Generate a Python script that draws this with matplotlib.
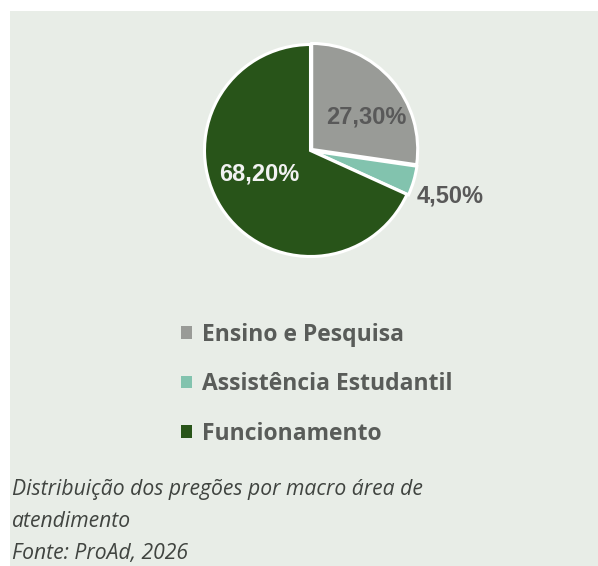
import matplotlib
matplotlib.use("Agg")
import matplotlib.pyplot as plt
from matplotlib.patches import Rectangle

categories = ["Ensino e Pesquisa", "Assistência Estudantil", "Funcionamento"]
shares = [27.3, 4.5, 68.2]
colors = ["#999b97", "#82c3ae", "#285419"]
caption = "Distribuição dos pregões por macro área de\natendimento\nFonte: ProAd, 2026"

W, H = 598, 566
fig = plt.figure(figsize=(W / 100, H / 100), dpi=100)
fig.patch.set_facecolor("white")

# panel background
fig.add_artist(Rectangle((10 / W, 0), 1 - 10 / W, 1 - 11 / H,
                         transform=fig.transFigure, facecolor="#e8ede7",
                         edgecolor="none", zorder=0))

# pie axes placed in pixel units: center (310, 150), radius ~106
cx, cy, r = 310.5, 150.5, 106
ax = fig.add_axes([(cx - r) / W, 1 - (cy + r) / H, 2 * r / W, 2 * r / H])
ax.set_facecolor("none")

wedges, _ = ax.pie(shares, colors=colors, startangle=90, counterclock=False,
                   explode=[0.015, 0.015, 0],
                   wedgeprops=dict(edgecolor="white", linewidth=2.2))
ax.set_xlim(-1.0, 1.0)
ax.set_ylim(-1.0, 1.0)
ax.set_aspect("equal")
ax.axis("off")

label_font = dict(family="Liberation Sans", weight="bold", fontsize=17)
fmt = lambda v: f"{v:.2f}".replace(".", ",") + "%"
ax.text(0.53, 0.32, fmt(shares[0]), color="#595959", ha="center", va="center", **label_font)
ax.text(1.32, -0.43, fmt(shares[1]), color="#595959", ha="center", va="center", **label_font)
ax.text(-0.48, -0.22, fmt(shares[2]), color="#f2f2f2", ha="center", va="center", **label_font)

leg = fig.legend(wedges, categories, loc="upper left",
                 bbox_to_anchor=(160 / W, 1 - 302 / H),
                 frameon=False, handlelength=0.48, handleheight=0.48,
                 handletextpad=0.45, labelspacing=1.11,
                 prop=dict(family="Open Sans", weight="bold", size=16.5))
for t in leg.get_texts():
    t.set_color("#595c59")
for h in leg.legend_handles:
    h.set_edgecolor("none")

fig.text(12 / W, 1 - 479 / H, caption, ha="left", va="top",
         family="Open Sans", style="italic", fontsize=15.2,
         color="#404440", linespacing=1.68)

fig.savefig("out.png", dpi=100)
